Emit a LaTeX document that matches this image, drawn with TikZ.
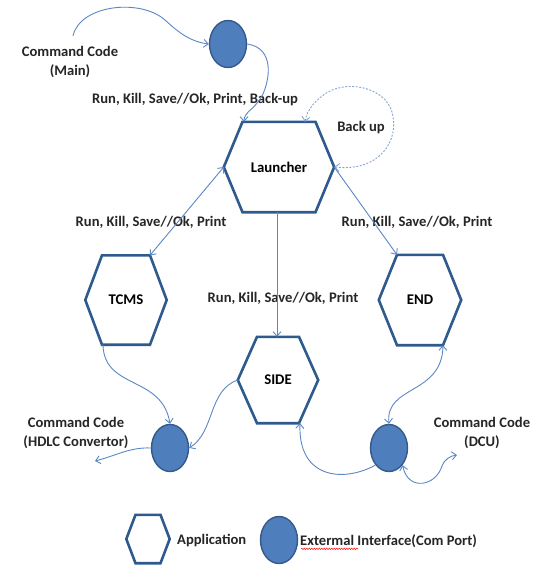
\documentclass[tikz,border=0pt]{standalone}
\usepackage{fontspec}
\setmainfont{Carlito}
\usetikzlibrary{calc,arrows.meta,shapes.geometric,decorations.pathmorphing}
\definecolor{hexblue}{HTML}{2F5A8E}
\definecolor{portfill}{HTML}{4F7EBD}
\definecolor{portline}{HTML}{35598A}
\definecolor{conn}{HTML}{5B88C4}
\definecolor{dashc}{HTML}{86A6D4}
\tikzset{
  hexnode/.style={draw=none, inner sep=0pt, font=\bfseries\fontsize{14.8}{17}\selectfont},
  hexline/.style={draw=hexblue, line width=2.6pt, line join=miter},
  port/.style={ellipse, draw=portline, fill=portfill, line width=1.4pt, minimum width=37pt, minimum height=47pt, inner sep=0pt},
  lbl/.style={inner sep=0pt, align=center, font=\bfseries\fontsize{14.6}{19.5}\selectfont, text=black!85},
  conn/.style={draw=conn, line width=0.9pt},
  tip/.style={-{Straight Barb[length=4.5pt,width=8pt]}},
  tips/.style={{Straight Barb[length=4.5pt,width=8pt]}-{Straight Barb[length=4.5pt,width=8pt]}},
}
\newcommand\hexdraw[2]{%
  \draw[hexline] (#1.west) -- ($(#1.north)+(-#2,0)$) -- ($(#1.north)+(#2,0)$) -- (#1.east)
    -- ($(#1.south)+(#2,0)$) -- ($(#1.south)+(-#2,0)$) -- cycle;}
\begin{document}
\begin{tikzpicture}[x=1pt,y=-1pt]
\useasboundingbox[fill=white] (0,0) rectangle (548,565);
% hexagon nodes
\node[hexnode, minimum width=110pt, minimum height=90pt] (L) at (279,167) {Launcher};
\node[hexnode, minimum width=81pt, minimum height=89pt] (T) at (126,300) {TCMS};
\node[hexnode, minimum width=82pt, minimum height=90pt] (E) at (420,300) {END};
\node[hexnode, minimum width=80pt, minimum height=86pt] (S) at (278,380) {SIDE};
\node[hexnode, minimum width=43pt, minimum height=48pt] (LH) at (148,539) {};
\hexdraw{L}{36.5}
\hexdraw{T}{24}
\hexdraw{E}{23}
\hexdraw{S}{21}
\hexdraw{LH}{12.5}
% ports
\node[port] (C1) at (228,44) {};
\node[port] (C2) at (170,448) {};
\node[port] (C3) at (389,448) {};
\node[port] (LC) at (279,540) {};
% texts
\node[lbl] (tmain) at (70,62) {Command Code\\(Main)};
\node[lbl] (ttop) at (195,100) {Run, Kill, Save//Ok, Print, Back-up};
\node[lbl] (tback) at (361,128) {Back up};
\node[lbl] (tleft) at (151,222) {Run, Kill, Save//Ok, Print};
\node[lbl] (tright) at (417,222) {Run, Kill, Save//Ok, Print};
\node[lbl] (tmid) at (283,298) {Run, Kill, Save//Ok, Print};
\node[lbl] (thdlc) at (76,433) {Command Code\\(HDLC Convertor)};
\node[lbl] (tdcu) at (482,433) {Command Code\\(DCU)};
\node[lbl, anchor=west] (tapp) at (177,541) {Application};
\node[lbl, anchor=west] (text) at (300,541) {Extermal Interface(Com Port)};
\draw[red, line width=0.5pt, decorate, decoration={snake, amplitude=0.7pt, segment length=2.5pt}]
  ($(text.base west)+(1,3.5)$) -- ($(text.base west)+(58,3.5)$);
% named free ends
\coordinate (hdlcEnd) at (95,461);
\coordinate (dcuEnd) at (457,455);
% connectors
\draw[conn, tip] ($(tmain.north)+(3,-10)$) .. controls (80,5) and (140,-2) .. (165,20)
   .. controls (180,34) and (192,42) .. (C1.west);
\draw[conn, tip] (C1.east) .. controls (275,48) and (270,80) .. (262,96)
   .. controls (254,110) and (244,112) .. ($(L.north)+(-35,0)$);
\draw[draw=dashc, line width=0.9pt, dash pattern=on 2pt off 1.5pt, tips]
   (L.east) .. controls (380,172) and (400,140) .. (392,112)
   .. controls (385,88) and (350,80) .. (328,92)
   .. controls (315,100) and (307,110) .. ($(L.north)+(26,0)$);
\draw[conn, tips] (L.west) -- ($(T.north)+(24,0)$);
\draw[conn, tip] (L.south) ++(-2,0) -- ($(S.north)+(-1,0)$);
\draw[conn, tip] (L.east) -- ($(E.north)+(-23,0)$);
\draw[conn, tip] ($(T.south)+(-23,0)$) .. controls (104,390) and (162,375) .. (C2.north);
\draw[conn, tip] (S.west) .. controls (208,390) and (215,432) .. (C2.east);
\draw[conn, tip] (C2.west) .. controls (130,447) and (115,456) .. (hdlcEnd);
\draw[conn, tips] ($(E.south)+(23,0)$) .. controls (442,395) and (385,385) .. (C3.north);
\draw[conn, tip] (C3.south west) .. controls (345,482) and (298,480) .. ($(S.south)+(22,0)$);
\draw[conn, tips] (C3.south east) .. controls (408,492) and (436,486) .. (442,466)
   .. controls (445,459) and (450,456) .. (dcuEnd);
\end{tikzpicture}
\end{document}
